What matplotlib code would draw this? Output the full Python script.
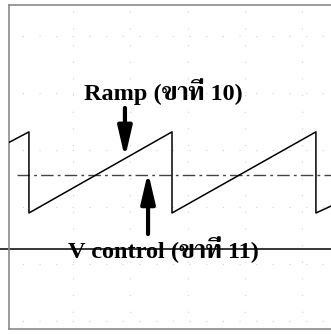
import matplotlib
matplotlib.use("Agg")
import matplotlib.pyplot as plt

# sawtooth (ramp) vertices: time in ms, level in V
ramp_t = [0.0, 0.139, 0.139, 1.136, 1.136, 2.139, 2.139, 2.244]
ramp_v = [4.60, 4.86, 2.86, 4.86, 2.86, 4.86, 2.86, 3.03]

v_control = 3.80      # dash-dot comparison level
ref_level = 1.97      # solid reference line

ramp_label = "Ramp (ขาที่ 10)"
ctrl_label = "V control (ขาที่ 11)"

grid_t = [0.446, 0.843, 1.247, 1.645, 2.042]
grid_v = [0.20, 1.60, 3.01, 4.41, 5.82, 7.22]

label_font = ["Liberation Serif", "Trirong", "DejaVu Sans"]

fig = plt.figure(figsize=(3.31, 3.34), dpi=100)
ax = fig.add_axes([9 / 331, 5 / 334, 322 / 331, 324.5 / 334])
ax.set_xlim(0, 2.244)
ax.set_ylim(0, 8)
ax.set_xticks([])
ax.set_yticks([])

# faint scope graticule
for t in grid_t:
    ax.axvline(t, color="#d2d2d2", lw=0.8, ls=(0, (1, 14)), zorder=0)
for v in grid_v:
    ax.axhline(v, color="#d2d2d2", lw=0.8, ls=(3, (1, 14)), zorder=0)

for side in ["top", "bottom", "left"]:
    ax.spines[side].set_color("#8a8a8a")
    ax.spines[side].set_linewidth(1.2)
ax.spines["right"].set_visible(False)

ax.plot(ramp_t, ramp_v, color="black", lw=1.1, zorder=3)

ax.plot([0.056, 2.244], [v_control, v_control], color="#444444", lw=1.0,
        ls=(0, (9, 3, 2, 3)), zorder=2)

# reference line runs past the left edge of the frame
ax.plot([-0.07, 2.244], [ref_level, ref_level], color="black", lw=1.1,
        clip_on=False, zorder=2)

arrow = dict(arrowstyle="-|>,head_length=1.8,head_width=0.42", lw=3.0,
             color="black", shrinkA=0, shrinkB=0)
ax.annotate("", xy=(0.808, 4.22), xytext=(0.808, 5.45), arrowprops=arrow)
ax.annotate("", xy=(0.969, 3.87), xytext=(0.969, 2.34), arrowprops=arrow)

ax.text(1.073, 5.65, ramp_label, ha="center", va="baseline", fontsize=17.5,
        fontweight="bold", family=label_font, zorder=4)
ax.text(1.077, 1.75, ctrl_label, ha="center", va="baseline", fontsize=17.5,
        fontweight="bold", family=label_font, zorder=4)

fig.savefig("out.png", dpi=100)
